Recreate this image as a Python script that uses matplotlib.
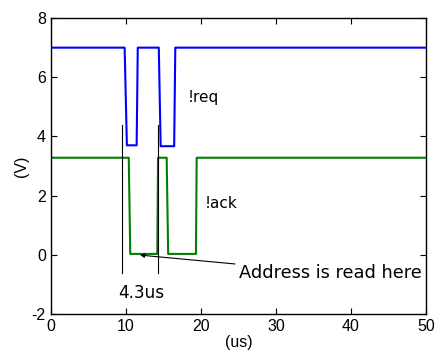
import matplotlib
matplotlib.use("Agg")
import matplotlib.pyplot as plt

# !req signal (blue), breakpoints in us and volts
req_t = [0, 9.85, 10.15, 11.45, 11.6, 14.4, 14.65, 16.45, 16.6, 50]
req_v = [7.0, 7.0, 3.7, 3.7, 7.0, 7.0, 3.67, 3.67, 7.0, 7.0]

# !ack signal (green)
ack_t = [0, 10.4, 10.6, 14.2, 14.3, 15.45, 15.65, 19.35, 19.45, 50]
ack_v = [3.28, 3.28, 0.03, 0.03, 3.28, 3.28, 0.03, 0.03, 3.28, 3.28]

# marker lines for the 4.3us interval
mark_t = [9.45, 14.3]
mark_top = 4.4
mark_bottom = -0.62

xticks = [0, 10, 20, 30, 40, 50]
yticks = [-2, 0, 2, 4, 6, 8]

plt.rcParams['font.family'] = ['Liberation Sans', 'DejaVu Sans']
plt.rcParams['axes.unicode_minus'] = False

fig = plt.figure(figsize=(4.36, 3.54), dpi=100)
ax = fig.add_axes([0.1163, 0.113, 0.8607, 0.836])

ax.plot(req_t, req_v, color=(0, 0, 1), lw=1.5)
ax.plot(ack_t, ack_v, color=(0, 0.5, 0), lw=1.5)
for t in mark_t:
    ax.plot([t, t], [mark_bottom, mark_top], color='black', lw=0.8)

ax.set_xlim(0, 50)
ax.set_ylim(-2, 8)
ax.set_xticks(xticks)
ax.set_yticks(yticks)
ax.tick_params(direction='in', top=True, right=True, labelsize=11.5, length=4, width=0.8)
for s in ax.spines.values():
    s.set_linewidth(1.0)

ax.set_xlabel('(us)', fontsize=11.5, labelpad=1)
ax.set_ylabel('(V)', fontsize=11.5, labelpad=2)

fam = ['DejaVu Sans']
ax.text(18.3, 5.33, '!req', va='center', ha='left', family=fam, fontsize=11)
ax.text(20.5, 1.75, '!ack', va='center', ha='left', family=fam, fontsize=11)
ax.text(9.0, -1.29, '4.3us', va='center', ha='left', family=fam, fontsize=12.2)
ax.annotate('Address is read here', xy=(11.9, -0.01), xytext=(25.1, -0.61),
            va='center', ha='left', family=fam, fontsize=12.8,
            arrowprops=dict(arrowstyle='-|>', color='black', lw=0.8,
                            mutation_scale=6, shrinkA=1, shrinkB=0))

fig.savefig('out.png', dpi=100)
